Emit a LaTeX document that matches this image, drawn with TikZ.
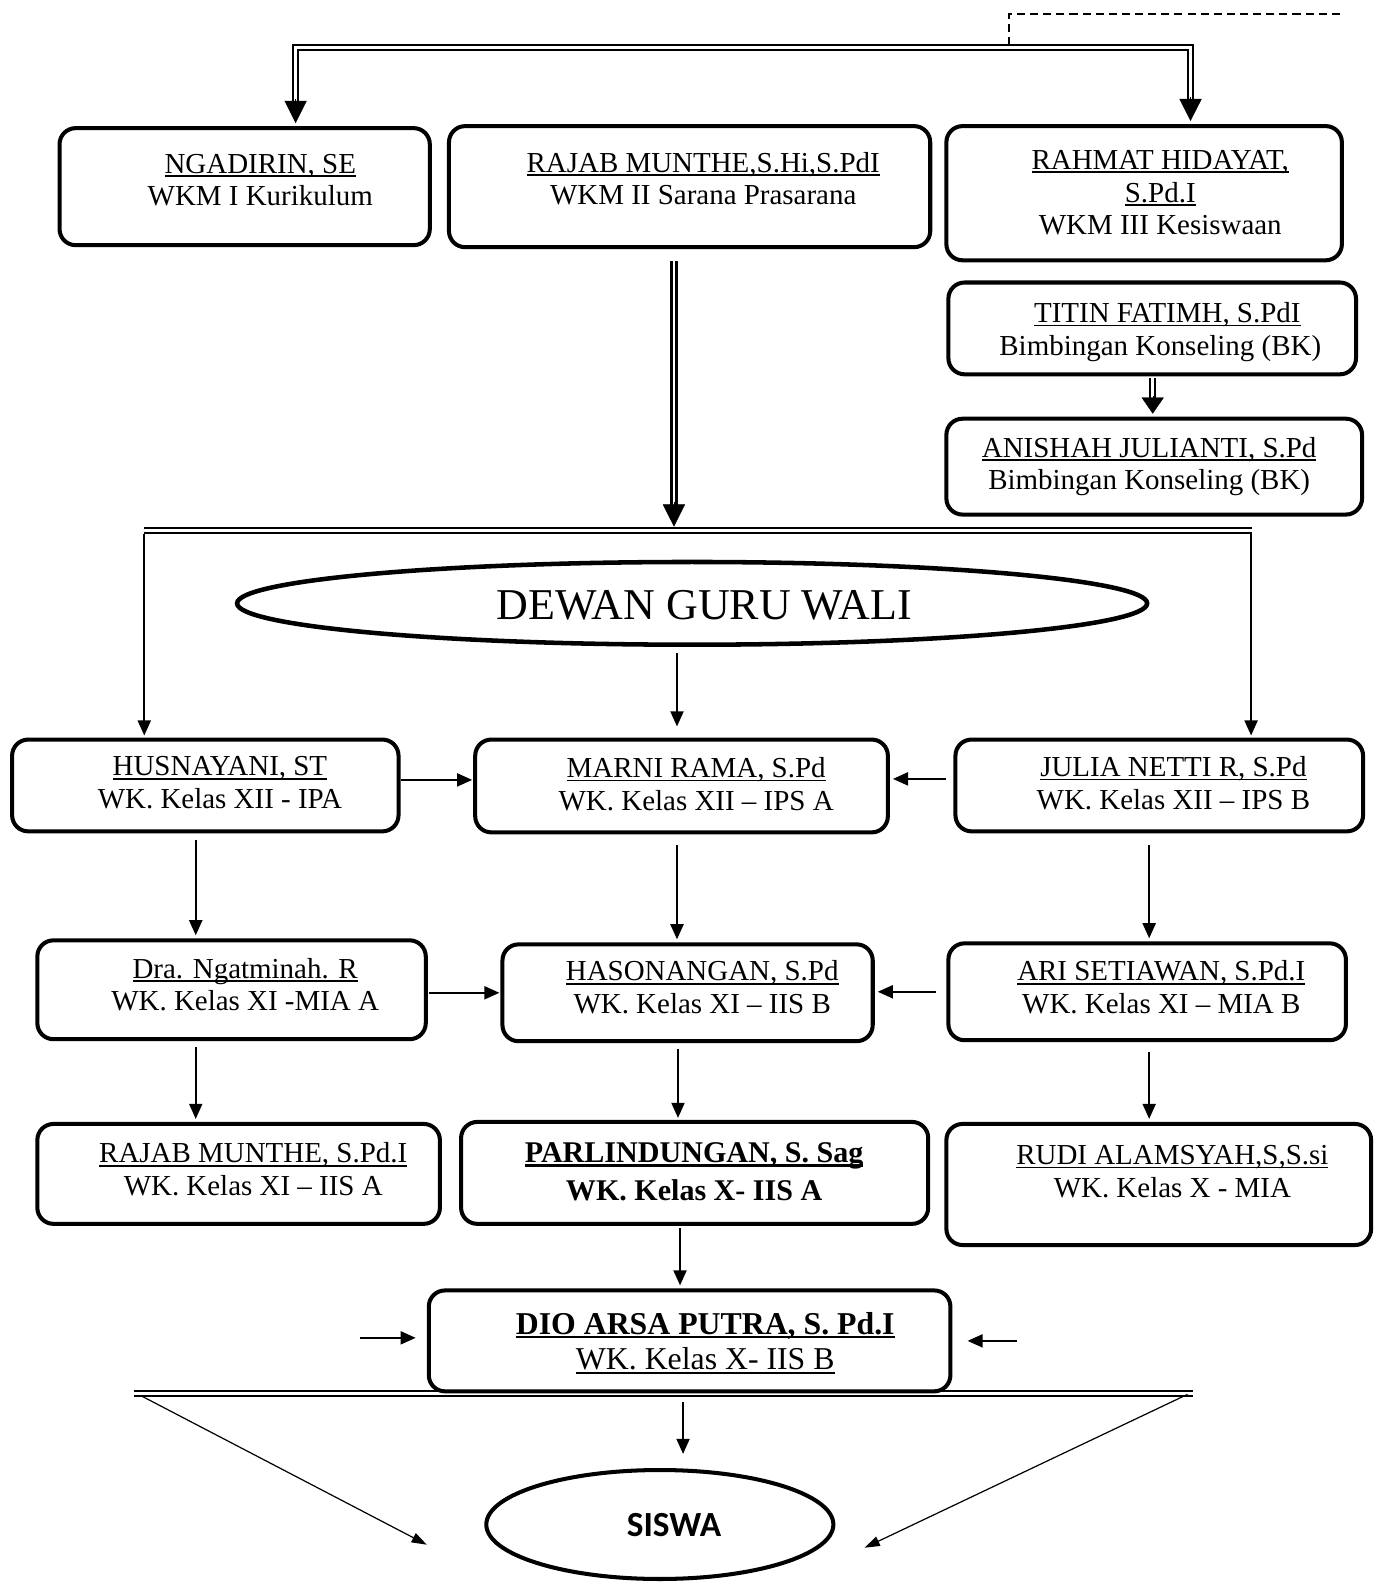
\documentclass[tikz,border=0pt]{standalone}
\usepackage{fontspec}
\setmainfont{Liberation Serif}
\newfontfamily\sisfont{Carlito}
\usetikzlibrary{arrows.meta,calc,shapes.geometric}
\newcommand{\myul}[2][1.6pt]{\sbox0{#2}\leavevmode\rlap{\rule[-3.8pt]{\wd0}{#1}}\usebox0}
\newcommand{\bigtipat}[2]{\draw[bigtip] ($(#2)!24pt!(#1)$) -- (#2);}
\begin{document}
\begin{tikzpicture}[x=1pt,y=-1pt,
  box/.style={draw, line width=4pt, rounded corners=16pt, fill=white, inner sep=0pt},
  txt/.style={inner sep=0pt, align=center, font=\fontsize{28.7}{32.5}\selectfont},
  arr/.style={line width=1.8pt, -{Triangle[width=13pt,length=15pt]}},
  thinarr/.style={line width=1.2pt, -{Triangle[width=10pt,length=15pt]}},
  dbl/.style={double, double distance=2.5pt, line width=2.3pt},
  bigtip/.style={line width=0.4pt, -{Triangle[width=22pt,length=22pt]}},
  dashline/.style={line width=1.8pt, dash pattern=on 8pt off 5pt}]
\useasboundingbox (0,0) rectangle (1370,1568);

% ---------- bottom bus drawn first ----------
\coordinate (bus3L) at (133,1381);
\coordinate (bus3R) at (1182,1381);
\draw[dbl] (bus3L) -- (bus3R);

% ---------- boxes ----------
\node[box, minimum width=367pt, minimum height=116pt] (b1) at (242.5,185) {};
\node[box, minimum width=477pt, minimum height=120pt] (b2) at (683.5,185) {};
\node[box, minimum width=392pt, minimum height=133pt] (b3) at (1134,191.5) {};
\node[box, minimum width=404pt, minimum height=91pt] (b4) at (1142,325.5) {};
\node[box, minimum width=412pt, minimum height=95pt] (b5) at (1144,462.5) {};
\node[ellipse, draw, line width=4.5pt, minimum width=902pt, minimum height=82pt, inner sep=0pt] (dewan) at (686,598) {};
\node[box, minimum width=383pt, minimum height=91pt] (b6) at (203.5,778.5) {};
\node[box, minimum width=409pt, minimum height=92pt] (b7) at (675.5,779) {};
\node[box, minimum width=404pt, minimum height=91pt] (b8) at (1149,778.5) {};
\node[box, minimum width=385pt, minimum height=98pt] (b9) at (229.5,981) {};
\node[box, minimum width=367pt, minimum height=96pt] (b10) at (681.5,984) {};
\node[box, minimum width=394pt, minimum height=96pt] (b11) at (1137,983) {};
\node[box, minimum width=399pt, minimum height=99pt] (b12) at (236.5,1163.5) {};
\node[box, minimum width=463pt, minimum height=101pt] (b13) at (688.5,1162.5) {};
\node[box, minimum width=421pt, minimum height=120pt] (b14) at (1148.5,1174) {};
\node[box, minimum width=517pt, minimum height=100pt] (b15) at (683.5,1329) {};
\node[ellipse, draw, line width=4pt, minimum width=344pt, minimum height=108pt, inner sep=0pt] (siswa) at (654,1511) {};

% ---------- texts ----------
\node[txt] (t1) at (258,178.5) {\myul{NGADIRIN, SE}\\WKM I Kurikulum};
\node[txt] (t2) at (697,177) {\myul{RAJAB MUNTHE,S.Hi,S.PdI}\\WKM II Sarana Prasarana};
\node[txt] (t3) at (1150,191) {\myul{RAHMAT HIDAYAT,}\\\myul{S.Pd.I}\\WKM III Kesiswaan};
\node[txt] (t4) at (1150,329) {\hspace*{14pt}\myul{TITIN FATIMH, S.PdI}\\Bimbingan Konseling (BK)};
\node[txt] (t5) at (1139,462.5) {\myul{ANISHAH JULIANTI, S.Pd}\\Bimbingan Konseling (BK)};
\node[inner sep=0pt, font=\fontsize{43.6}{50}\selectfont] (tD) at (698,600) {DEWAN GURU WALI};
\node[txt] (t6) at (218,776) {\myul{HUSNAYANI, ST}\\WK. Kelas XII - IPA};
\node[txt] (t7) at (690,777) {\myul{MARNI RAMA, S.Pd}\\WK. Kelas XII – IPS A};
\node[txt] (t8) at (1163,776) {\myul{JULIA NETTI R, S.Pd}\\WK. Kelas XII – IPS B};
\node[txt] (t9) at (243,976) {\myul{Dra. Ngatminah. R}\\WK. Kelas XI -MIA A};
\node[txt] (t10) at (696,978.5) {\myul{HASONANGAN, S.Pd}\\WK. Kelas XI – IIS B};
\node[txt] (t11) at (1151,978.5) {\myul{ARI SETIAWAN, S.Pd.I}\\WK. Kelas XI – MIA B};
\node[txt] (t12) at (251,1159) {\myul{RAJAB MUNTHE, S.Pd.I}\\WK. Kelas XI – IIS A};
\node[txt, font=\fontsize{29.8}{37}\selectfont\bfseries] (t13) at (688,1161.5) {\myul[2.6pt]{PARLINDUNGAN, S. Sag}\\WK. Kelas X- IIS A};
\node[txt] (t14) at (1162,1161) {\myul{RUDI ALAMSYAH,S,S.si}\\WK. Kelas X - MIA};
\node[txt, font=\fontsize{31.5}{35}\selectfont] (t15) at (699,1331) {{\bfseries\myul[2.6pt]{DIO ARSA PUTRA, S. Pd.I}}\\\myul{WK. Kelas X- IIS B}};
\node[inner sep=0pt, font=\fontsize{35}{40}\selectfont\sisfont\bfseries] (tS) at (668,1512) {SISWA};

% ---------- top bus ----------
\coordinate (busL) at (293,47);
\coordinate (busR) at (1180,47);
\coordinate (dashJ) at (1000,44);
\coordinate (dashC) at (1000,14);
\coordinate (dashE) at (1328,14);
\coordinate (tip1) at ($(busL |- b1.north)+(0,-3)$);
\coordinate (tip2) at ($(busR |- b3.north)+(0,-3)$);
\draw[dashline] (dashE) -- (dashC) -- (dashJ);
\draw[dbl, shorten <=12pt, shorten >=12pt] (tip1) -- (busL) -- (busR) -- (tip2);
\bigtipat{busL}{tip1}
\bigtipat{busR}{tip2}

% ---------- TITIN -> ANISHAH ----------
\coordinate (b4o) at ($(b4.south)+(0.5,2)$);
\coordinate (tip4) at ($(b4.south |- b5.north)+(0.5,-3)$);
\draw[dbl, shorten >=10pt] (b4o) -- (tip4);
\draw[line width=0.4pt, -{Triangle[width=22pt,length=16pt]}] ($(tip4)!18pt!(b4o)$) -- (tip4);

% ---------- RAJAB -> second bus ----------
\coordinate (bus2L) at (143,526);
\coordinate (bus2R) at (1241,526);
\coordinate (b2o) at ($(b2.south)+(-15.5,12)$);
\coordinate (tip3) at ($(b2o |- bus2L)+(0,-4)$);
\draw[dbl] (bus2L) -- (bus2R);
\draw[dbl, shorten >=12pt] (b2o) -- (tip3);
\bigtipat{b2o}{tip3}
\draw[arr, shorten >=2pt] ($(bus2L)+(0,3)$) -- (bus2L |- b6.north);
\draw[arr, shorten >=2pt] ($(bus2R)+(-1,3)$) -- ($(bus2R |- b8.north)+(-1,0)$);

% ---------- DEWAN -> MARNI ----------
\draw[arr] ($(dewan.south)+(-15,6)$) -- ($(dewan.south |- b7.north)+(-15,-11)$);

% ---------- row 1 horizontals ----------
\draw[arr] ($(b6.east)+(0,-5.5)$) -- ($(b7.west |- b6.east)+(-1,-5.5)$);
\draw[arr] ($(b8.west)+(-7,-6.5)$) -- ($(b7.east |- b8.west)+(3,-6.5)$);

% ---------- row 1 -> row 2 ----------
\draw[arr] ($(b6.south)+(-9.5,7)$) -- ($(b6.south |- b9.north)+(-9.5,-3)$);
\draw[arr] ($(b7.south)+(-4.5,11)$) -- ($(b7.south |- b10.north)+(-4.5,-3)$);
\draw[arr] ($(b8.south)+(-10,12)$) -- ($(b8.south |- b11.north)+(-10,-3)$);

% ---------- row 2 horizontals ----------
\draw[arr] ($(b9.east)+(1,3)$) -- ($(b10.west |- b9.east)+(-1,3)$);
\draw[arr] ($(b11.west)+(-10,0)$) -- ($(b10.east |- b11.west)+(3,0)$);

% ---------- row 2 -> row 3 ----------
\draw[arr] ($(b9.south)+(-35.5,6)$) -- ($(b9.south |- b12.north)+(-35.5,-3)$);
\draw[arr] ($(b10.south)+(-9.5,6)$) -- ($(b10.south |- b13.north)+(-9.5,-2)$);
\draw[arr] ($(b11.south)+(2,10)$) -- ($(b11.south |- b14.north)+(2,-3)$);

% ---------- PARLINDUNGAN -> DIO ----------
\draw[arr] ($(b13.south)+(-14.5,2)$) -- ($(b13.south |- b15.north)+(-14.5,-3)$);

% ---------- small side arrows at DIO ----------
\coordinate (sl) at ($(b15.west)+(-66,-3)$);
\coordinate (sr) at ($(b15.east)+(64,0)$);
\draw[arr] (sl) -- ($(b15.west)+(-11,-3)$);
\draw[arr] (sr) -- ($(b15.east)+(15,0)$);

% ---------- to SISWA ----------
\draw[arr] ($(b15.south)+(-6.5,9)$) -- ($(b15.south |- siswa.north)+(-6.5,-14)$);
\coordinate (dl) at ($(siswa.center)+(-231,20)$);
\coordinate (dr) at ($(siswa.center)+(203,23)$);
\draw[thinarr] ($(bus3L)+(8,3)$) -- (dl);
\draw[thinarr] ($(bus3R)+(-5,1)$) -- (dr);
\end{tikzpicture}
\end{document}
